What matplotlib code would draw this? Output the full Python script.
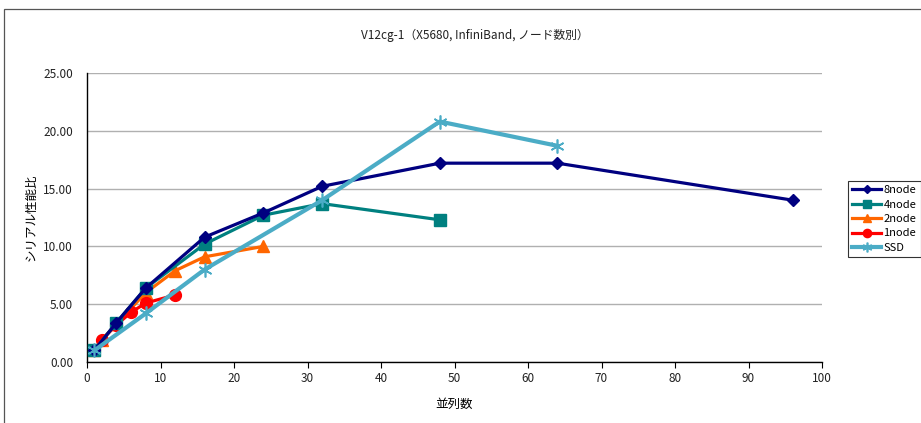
import matplotlib
matplotlib.use("Agg")
import matplotlib.pyplot as plt
from matplotlib.patches import Rectangle

plt.rcParams['font.family'] = ['Noto Sans CJK JP', 'DejaVu Sans']

title = "V12cg-1（X5680, InfiniBand, ノード数別）"
xlabel = "並列数"
ylabel = "シリアル性能比"

x_8node = [1, 4, 8, 16, 24, 32, 48, 64, 96]
y_8node = [1.0, 3.4, 6.4, 10.8, 12.9, 15.2, 17.2, 17.2, 14.0]

x_4node = [1, 4, 8, 16, 24, 32, 48]
y_4node = [1.0, 3.4, 6.4, 10.2, 12.7, 13.7, 12.3]

x_2node = [1, 2, 4, 8, 12, 16, 24]
y_2node = [1.0, 1.9, 3.3, 6.0, 7.9, 9.1, 10.0]

x_1node = [1, 2, 4, 6, 8, 12]
y_1node = [1.0, 1.9, 3.2, 4.3, 5.1, 5.8]

x_ssd = [1, 8, 16, 32, 48, 64]
y_ssd = [1.0, 4.2, 8.0, 14.0, 20.8, 18.7]

W, H = 921, 423
fig = plt.figure(figsize=(W / 100, H / 100), dpi=100)
ax = fig.add_axes([87 / W, 1 - 362 / H, (822 - 87) / W, (362 - 73) / H])

# outer chart frame
fig.patches.append(Rectangle((4 / W, -0.05), 1.1, 1 - 9 / H + 0.05,
                             transform=fig.transFigure, fill=False,
                             edgecolor='#555555', linewidth=0.9))

lw = 2.3
ax.plot(x_8node, y_8node, color='#000080', lw=lw, marker='D', ms=6, label='8node', zorder=5)
ax.plot(x_4node, y_4node, color='#008080', lw=lw, marker='s', ms=8, label='4node', zorder=4)
ax.plot(x_2node, y_2node, color='#FF6600', lw=lw, marker='^', ms=8, label='2node', zorder=3)
ax.plot(x_1node, y_1node, color='#FF0000', lw=lw, marker='o', ms=8.5, label='1node', zorder=3)
ax.plot(x_ssd, y_ssd, color='#4BACC6', lw=3, marker=(6, 2, 0), ms=10, mew=1.2,
        label='SSD', zorder=6)

ax.set_xlim(0, 100)
ax.set_ylim(0, 25)
ax.set_xticks(range(0, 101, 10))
ax.set_yticks([0, 5, 10, 15, 20, 25])
ax.set_yticklabels([f"{v:.2f}" for v in [0, 5, 10, 15, 20, 25]])
ax.tick_params(axis='both', labelsize=8.5, colors='#222222')
ax.tick_params(axis='x', direction='out', length=4, width=0.8, color='black')
ax.tick_params(axis='y', length=0, pad=10)
ax.grid(axis='y', color='#b0b0b0', lw=1)
ax.set_axisbelow(True)
for s in ['top', 'right']:
    ax.spines[s].set_visible(False)
for s in ['left', 'bottom']:
    ax.spines[s].set_color('black')
    ax.spines[s].set_linewidth(1)

fig.text(475 / W, 1 - 35 / H, title, fontsize=8.5, color='#222222',
         ha='center', va='center')
ax.set_xlabel(xlabel, fontsize=9, labelpad=9)
ax.set_ylabel(ylabel, fontsize=9, labelpad=4)

leg = ax.legend(loc='center left', bbox_to_anchor=(848 / W, 1 - 219 / H),
                bbox_transform=fig.transFigure, fontsize=8, frameon=True,
                fancybox=False, edgecolor='black', handlelength=2.6,
                handletextpad=0.2, borderpad=0.4, borderaxespad=0,
                labelspacing=0.4, markerscale=0.7)
leg.get_frame().set_linewidth(0.8)

fig.savefig("out.png", dpi=100)
